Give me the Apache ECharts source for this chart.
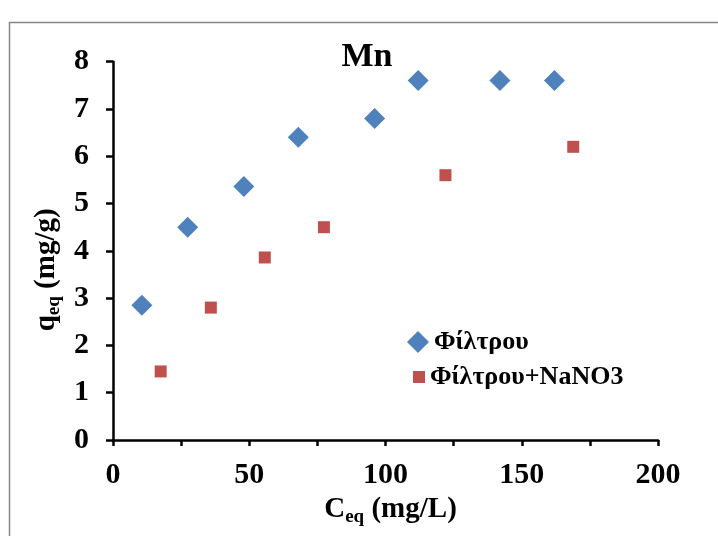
<!DOCTYPE html>
<html>
<head>
<meta charset="utf-8">
<script src="https://cdn.jsdelivr.net/npm/echarts@6/dist/echarts.min.js"></script>
<style>
  html, body { margin: 0; padding: 0; background: #fff; }
  #chart { width: 718px; height: 536px; }
</style>
</head>
<body>
<div id="chart"></div>
<script>
// Mn adsorption isotherm: equilibrium concentration vs. uptake
const filterCeq = [10.6, 27.4, 48, 68, 96, 112, 142, 162];
const filterQeq = [2.85, 4.5, 5.36, 6.4, 6.8, 7.6, 7.6, 7.6];
const nitrateCeq = [17.5, 35.9, 55.7, 77.4, 122, 168.9];
const nitrateQeq = [1.45, 2.8, 3.86, 4.5, 5.6, 6.2];
const seriesNames = ['Φίλτρου', 'Φίλτρου+NaNO3'];
const xTicks = [0, 50, 100, 150, 200];

const FONT = '"Liberation Serif", "Times New Roman", serif';
const BLUE = '#4F81BD';
const RED = '#C0504D';

const zip = (xs, ys) => xs.map((x, i) => [x, ys[i]]);

const chart = echarts.init(document.getElementById('chart'), null, { renderer: 'canvas' });

const legendText = {
  fontFamily: FONT, fontWeight: 'bold', fontSize: 26, color: '#000'
};

const nameRich = {
  m: { fontFamily: FONT, fontWeight: 'bold', fontSize: 29, color: '#000' },
  s: { fontFamily: FONT, fontWeight: 'bold', fontSize: 19, color: '#000', padding: [15, 0, 0, 0] }
};

chart.setOption({
  animation: false,
  backgroundColor: '#fff',
  graphic: [{
    type: 'rect',
    left: 7, top: 20,
    shape: { width: 760, height: 560 },
    style: { fill: 'none', stroke: '#878787', lineWidth: 1.5 },
    silent: true
  }],
  title: {
    text: 'Mn',
    left: 362, top: 35,
    textAlign: 'center',
    textStyle: { fontFamily: FONT, fontWeight: 'bold', fontSize: 34, color: '#000' }
  },
  legend: [{
    data: [{ name: seriesNames[0], icon: 'diamond' }],
    left: 402, top: 324,
    itemWidth: 22, itemHeight: 22,
    textStyle: legendText
  }, {
    data: [{ name: seriesNames[1], icon: 'rect' }],
    left: 408, top: 359,
    itemWidth: 12, itemHeight: 12,
    textStyle: legendText
  }],
  grid: { left: 113, right: 60, top: 61.7, bottom: 96 },
  xAxis: {
    type: 'value',
    min: 0, max: 200, interval: 25,
    name: '{m|C}{s|eq}{m| (mg/L)}',
    nameLocation: 'middle',
    nameGap: 53,
    nameTextStyle: { padding: [0, 0, 0, 10], rich: nameRich },
    axisLine: { show: true, onZero: false, lineStyle: { color: '#000', width: 2.5 } },
    axisTick: { show: true, inside: false, length: 6, lineStyle: { color: '#000', width: 2.5 } },
    splitLine: { show: false },
    axisLabel: {
      margin: 20,
      fontFamily: FONT, fontWeight: 'bold', fontSize: 30, color: '#000',
      formatter: v => (xTicks.includes(v) ? String(v) : '')
    }
  },
  yAxis: {
    type: 'value',
    min: 0, max: 8, interval: 1,
    name: '{m|q}{s|eq}{m| (mg/g)}',
    nameLocation: 'middle',
    nameGap: 49,
    nameTextStyle: { padding: [0, 38, 0, 0], rich: nameRich },
    axisLine: { show: true, onZero: false, lineStyle: { color: '#000', width: 2.5 } },
    axisTick: { show: true, inside: false, length: 7, lineStyle: { color: '#000', width: 2.5 } },
    splitLine: { show: false },
    axisLabel: {
      margin: 24,
      fontFamily: FONT, fontWeight: 'bold', fontSize: 30, color: '#000'
    }
  },
  series: [{
    name: seriesNames[0],
    type: 'scatter',
    symbol: 'diamond',
    symbolSize: [21, 21],
    itemStyle: { color: BLUE, opacity: 1 },
    data: zip(filterCeq, filterQeq)
  }, {
    name: seriesNames[1],
    type: 'scatter',
    symbol: 'rect',
    symbolSize: [12, 12],
    itemStyle: { color: RED, opacity: 1 },
    data: zip(nitrateCeq, nitrateQeq)
  }]
});
</script>
</body>
</html>
